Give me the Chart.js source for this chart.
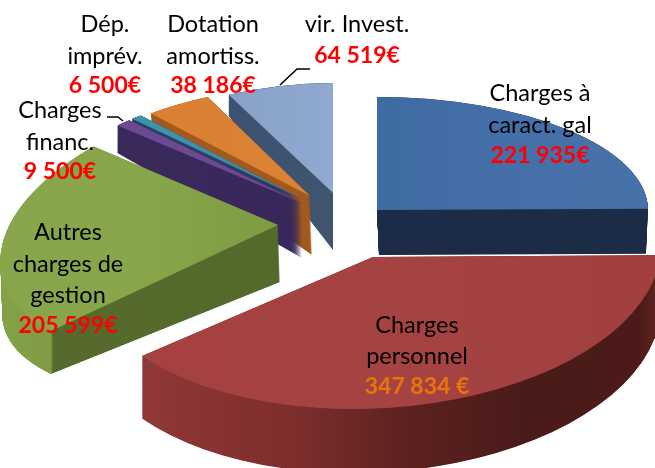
<!DOCTYPE html>
<html><head><meta charset="utf-8">
<style>html,body{margin:0;padding:0;background:#fff}canvas{display:block}</style>
<script src="https://cdn.jsdelivr.net/npm/chart.js@4/dist/chart.umd.min.js"></script>
</head><body>
<canvas id="c" width="655" height="468"></canvas>
<script>
const categories = ["Charges à caract. gal","Charges personnel","Autres charges de gestion","Charges financ.","Dép. imprév.","Dotation amortiss.","vir. Invest."];
const values = [221935,347834,205599,9500,6500,38186,64519];
const valueLabels = ["221 935€","347 834 €","205 599€","9 500€","6 500€","38 186€","64 519€"];
const labelLines = [["Charges à","caract. gal"],["Charges","personnel"],["Autres","charges de","gestion"],["Charges","financ."],["Dép.","imprév."],["Dotation","amortiss."],["vir. Invest."]];
const baseColors = ["#4470a8","#a54140","#82a248","#6b4a90","#3a93ad","#d87f33","#8ba4cc"];

// view: per-slice projection of the unit pie. m=[a,b,c,d], p=apex for top and bottom faces
const view = [
 {top:{p:[377,210],m:[271,0,0,113]},bot:{p:[379,255],m:[267,0,0,113]},
  face:[[377,'#3f6ba3'],[520,'#456fa8'],[648,'#4672a9']],wall:[[377,'#1c2c46'],[648,'#1c2c46']]},
 {top:{p:[373,257],m:[287,0,-20,152]},bot:{p:[373,317],m:[287,0,-20,156]},
  face:[[143,'#a54241'],[400,'#a54342'],[655,'#a03f3d']],wall:[[143,'#8f3837'],[300,'#7c2d2c'],[400,'#5e2220'],[520,'#4a1b19'],[640,'#4c1b19'],[655,'#5d2220']]},
 {top:{p:[278,225],m:[276,-21,-30,140]},bot:{p:[280,282],m:[276,-21,-30,117]},
  face:[[0,'#88a74c'],[150,'#87a64a'],[280,'#7d9c42']],wall:[[0,'#84a248'],[51,'#7f9c44'],[53,'#556a2c'],[280,'#546a2b']]},
 {top:{p:[302,203],m:[250,3,-1,112]},bot:{p:[302,258],m:[250,3,-1,153]},
  face:[[117,'#6b4a92'],[302,'#6b4a92']],wall:[[117,'#3a2a5c'],[302,'#38275a']]},
 {top:{p:[300,198],m:[250,0,-8,110]},bot:{p:[298,255],m:[250,0,-8,150]},
  face:[[130,'#3b95ae'],[300,'#3b8aa3']],wall:[[130,'#2c3f66'],[300,'#2c3a60']]},
 {top:{p:[310,196],m:[250,0,-8,110]},bot:{p:[312,255],m:[250,0,-8,150]},
  face:[[150,'#d98033'],[310,'#dc8234']],wall:[[150,'#a2591d'],[312,'#a2591d']]},
 {top:{p:[333,193],m:[238,-1.5,0,110]},bot:{p:[333,250],m:[238,-1.5,0,150]},
  face:[[228,'#87a1ca'],[333,'#90a9cf']],wall:[[228,'#3c5270'],[333,'#41546f']]}
];
const drawOrder = [6,5,4,3,2,0,1];

const labelPos = [
 {x:540,y:[93,125,156]},{x:417,y:[325,356,387]},{x:68,y:[232,264,295,326]},
 {x:60,y:[110,142,172]},{x:105,y:[24,56,86]},{x:213,y:[24,56,86]},{x:357,y:[24,56]}
];
const valueColors = ["#ff0000","#e8750a","#ff0000","#ff0000","#ff0000","#ff0000","#ff0000"];
const leaders = [[[280,85],[297,69],[310,69]],[[107,117],[118,117],[123,121]]];
const FONT = 'Lato, "Open Sans", sans-serif';
const SIZE = 23.5;
const VALUE_SIZE = 23;

const off = document.createElement('canvas'); off.width=655; off.height=468;
const octx = off.getContext('2d');

function setM(ctx,arc,f){
  const R=arc.outerRadius, [a,b,c,d]=f.m;
  ctx.setTransform(1,0,0,1,0,0);
  ctx.translate(f.p[0],f.p[1]);
  ctx.transform(a/R,b/R,c/R,d/R,0,0);
  ctx.translate(-arc.x,-arc.y);
}
function lerpF(A,B,t){
  return {p:A.p.map((v,i)=>v+(B.p[i]-v)*t), m:A.m.map((v,i)=>v+(B.m[i]-v)*t)};
}
function recolour(ctx,stops){
  const x0=stops[0][0],x1=stops[stops.length-1][0];
  const g=octx.createLinearGradient(x0,0,x1,0);
  stops.forEach(s=>g.addColorStop((s[0]-x0)/(x1-x0),s[1]));
  octx.setTransform(1,0,0,1,0,0);
  octx.globalCompositeOperation='source-in';
  octx.fillStyle=g; octx.fillRect(0,0,655,468);
  octx.globalCompositeOperation='source-over';
  ctx.drawImage(off,0,0);
  octx.clearRect(0,0,655,468);
}
const pie3d = {
  id:'pie3d',
  beforeDatasetsDraw(chart){
    const ctx=chart.ctx, arcs=chart.getDatasetMeta(0).data;
    ctx.save(); ctx.setTransform(1,0,0,1,0,0);
    for(const i of drawOrder){
      const arc=arcs[i], v=view[i];
      const steps=Math.ceil(Math.abs(v.bot.p[1]-v.top.p[1])*2);
      for(let s=steps;s>=0;s--){ setM(octx,arc,lerpF(v.top,v.bot,s/steps)); arc.draw(octx); }
      recolour(ctx,v.wall);
      setM(octx,arc,v.top); arc.draw(octx);
      recolour(ctx,v.face);
    }
    ctx.restore();
    return false;
  },
  afterDraw(chart){
    const ctx=chart.ctx;
    ctx.save(); ctx.setTransform(1,0,0,1,0,0);
    ctx.strokeStyle='#000'; ctx.lineWidth=1.5;
    leaders.forEach(l=>{ctx.beginPath();l.forEach((p,i)=>i?ctx.lineTo(p[0],p[1]):ctx.moveTo(p[0],p[1]));ctx.stroke();});
    ctx.textAlign='center'; ctx.textBaseline='middle';
    labelLines.forEach((lines,i)=>{
      const pos=labelPos[i];
      ctx.font=`${SIZE}px ${FONT}`; ctx.fillStyle='#000';
      lines.forEach((t,k)=>ctx.fillText(t,pos.x,pos.y[k]));
      ctx.font=`bold ${VALUE_SIZE}px ${FONT}`; ctx.fillStyle=valueColors[i];
      ctx.fillText(valueLabels[i],pos.x,pos.y[lines.length]);
    });
    ctx.restore();
  }
};
new Chart(document.getElementById('c'),{
  type:'pie',
  data:{labels:categories,datasets:[{data:values,backgroundColor:baseColors,borderWidth:0}]},
  options:{responsive:false,animation:false,plugins:{legend:{display:false},tooltip:{enabled:false}},layout:{padding:0}},
  plugins:[pie3d]
});
</script>
</body></html>
